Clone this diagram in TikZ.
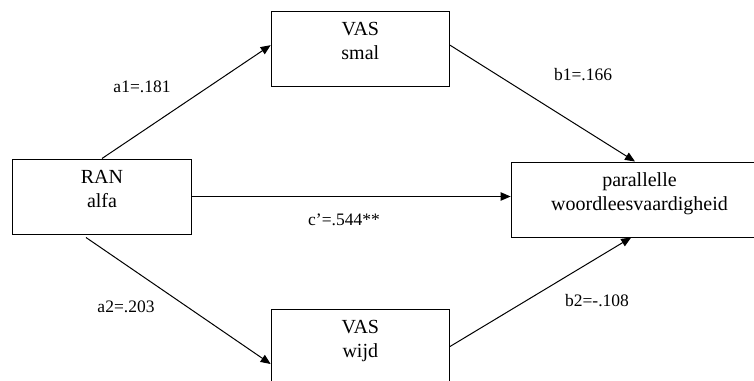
\documentclass[tikz,border=0pt]{standalone}
\usepackage{fontspec}
\setmainfont{Liberation Serif}
\usetikzlibrary{positioning,arrows.meta}
\newcommand{\lowpad}{\vrule width 0pt height 0pt depth 9.6pt}
\tikzstyle{box} = [rectangle, draw, align=center, minimum width=107pt, minimum height=45pt, inner sep=0pt, font=\fontsize{12}{14.4}\selectfont]
\tikzstyle{wide} = [box, minimum width=154pt]
\tikzstyle{coef} = [font=\fontsize{10.5}{12}\selectfont, inner sep=0pt]

\begin{document}
\begin{tikzpicture}[x=0.6pt, y=-0.6pt, >={Triangle[length=6pt, width=5pt]}, line width=0.6pt]
   \useasboundingbox (0,0) rectangle (754,380);
   % nodes
   \node[box] (ran) at (102,196.5)                       {RAN\\alfa\lowpad};
   \node[box] (smal) [above right=43.2pt and 47.4pt of ran] {VAS\\smal\lowpad};
   \node[box] (wijd) [below right=44.4pt and 47.4pt of ran] {VAS\\wijd\lowpad};
   \node[wide] (out) [right=191.4pt of ran, yshift=-1.8pt] {parallelle\\woordleesvaardigheid\lowpad};

   % coefficients
   \node[coef] (la1) at (142,87)  {a1=.181};
   \node[coef] (lb1) at (583,75)  {b1=.166};
   \node[coef] (lc)  at (344,220) {c'=.544**};
   \node[coef] (la2) at (126,307) {a2=.203};
   \node[coef] (lb2) at (597,301) {b2=-.108};

   % edges
	\draw[->] (ran.north) to ([yshift=2pt]smal.west);
	\draw[->] ([yshift=2pt]smal.east) to ([xshift=-2.7pt]out.north);
	\draw[->] (ran.east) to (ran.east -| out.west);
	\draw[->] ([xshift=-9.6pt, yshift=-1.8pt]ran.south) to ([yshift=-10.5pt]wijd.west);
	\draw[->] (wijd.east) to ([xshift=-5pt]out.south);
\end{tikzpicture}
\end{document}
